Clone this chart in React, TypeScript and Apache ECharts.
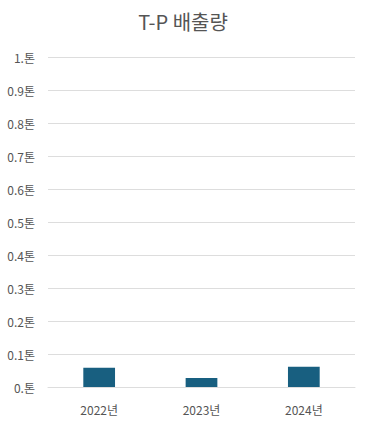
import React, { useEffect, useRef } from "react";
import * as echarts from "echarts";

const categories = ["2022년", "2023년", "2024년"];
const emissions = [0.058, 0.027, 0.061];
const yTickLabels = ["0.톤", "0.1톤", "0.2톤", "0.3톤", "0.4톤", "0.5톤", "0.6톤", "0.7톤", "0.8톤", "0.9톤", "1.톤"];

const FONT = "'Noto Sans CJK KR', 'Noto Sans', sans-serif";

export default function App() {
  const ref = useRef<HTMLDivElement>(null);

  useEffect(() => {
    if (!ref.current) return;
    const chart = echarts.init(ref.current, null, { renderer: "svg" });
    chart.setOption({
      animation: false,
      textStyle: { fontFamily: FONT },
      title: {
        text: "T-P 배출량",
        left: "center",
        top: 6,
        textStyle: { fontSize: 20, fontWeight: "normal", color: "#555", fontFamily: FONT },
      },
      grid: { left: 48, right: 11, top: 57, bottom: 46, containLabel: false },
      xAxis: {
        type: "category",
        data: categories,
        axisLine: { show: true, lineStyle: { color: "#ddd" } },
        axisTick: { show: false },
        axisLabel: { color: "#555", fontSize: 12, margin: 16, fontFamily: FONT },
      },
      yAxis: {
        type: "value",
        min: 0,
        max: 1,
        interval: 0.1,
        axisLine: { show: false },
        axisTick: { show: false },
        splitLine: { lineStyle: { color: "#ddd" } },
        axisLabel: {
          color: "#555",
          fontSize: 12,
          margin: 13,
          fontFamily: FONT,
          formatter: (v: number) => yTickLabels[Math.round(v * 10)] ?? "",
        },
      },
      series: [
        {
          type: "bar",
          data: emissions,
          barWidth: "31%",
          itemStyle: { color: "#185f80" },
        },
      ],
    });
    return () => chart.dispose();
  }, []);

  return (
    <div
      ref={ref}
      style={{ position: "fixed", left: 0, top: 0, width: 366, height: 433, background: "#fff" }}
    />
  );
}
